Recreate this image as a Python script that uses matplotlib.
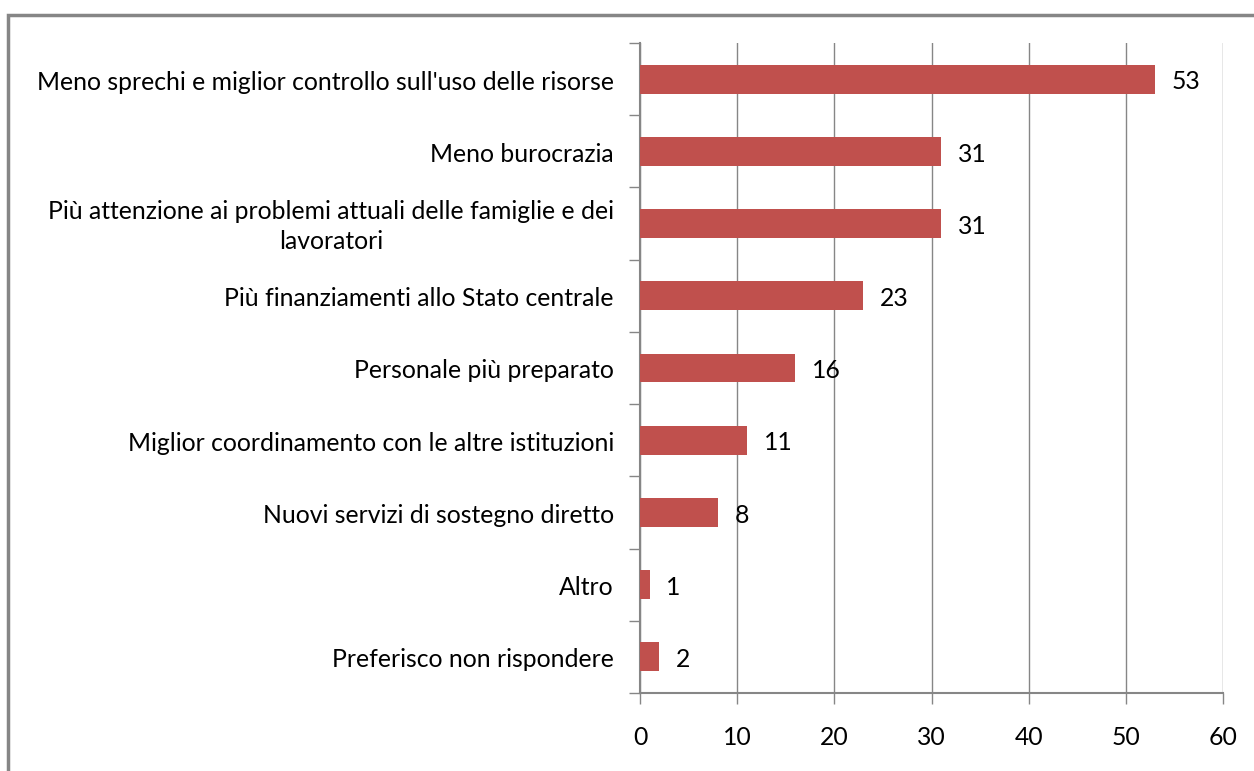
import matplotlib
matplotlib.use("Agg")
import matplotlib.pyplot as plt
from matplotlib.patches import Rectangle
from matplotlib.transforms import ScaledTranslation
import numpy as np

categories = [
    "Meno sprechi e miglior controllo sull'uso delle risorse",
    "Meno burocrazia",
    "Più attenzione ai problemi attuali delle famiglie e dei\nlavoratori",
    "Più finanziamenti allo Stato centrale",
    "Personale più preparato",
    "Miglior coordinamento con le altre istituzioni",
    "Nuovi servizi di sostegno diretto",
    "Altro",
    "Preferisco non rispondere",
]
values = [53, 31, 31, 23, 16, 11, 8, 1, 2]
xticks = [0, 10, 20, 30, 40, 50, 60]

plt.rcParams['font.family'] = ['Lato', 'DejaVu Sans']

fig = plt.figure(figsize=(12.54, 7.71), dpi=100)
W, H = 1254, 771
ax = fig.add_axes([640 / W, 1 - 693 / H, (1223 - 640) / W, (693 - 43) / H])

gray = '#868686'
fs = 17.8
n = len(categories)
y = np.arange(n)
ax.barh(y, values, height=0.4, color='#C0504D', zorder=3)
for yi, v in zip(y, values):
    ax.annotate(str(v), (v, yi), xytext=(12, -2), textcoords='offset points',
                va='center', ha='left', fontsize=fs)

ax.set_ylim(n - 0.5, -0.5)
ax.set_xlim(0, 60)
ax.set_xticks(xticks)
ax.set_xticklabels([str(t) for t in xticks], fontsize=fs)
ax.set_yticks(y)
ax.set_yticklabels([])
label_trans = ax.get_yaxis_transform() + ScaledTranslation(-26 / 100, -3 / 100, fig.dpi_scale_trans)
for yi, cat in zip(y, categories):
    ax.text(0, yi, cat, transform=label_trans, ha='right', va='center',
            multialignment='center', linespacing=1.35, fontsize=fs)
ax.set_yticks(np.arange(n + 1) - 0.5, minor=True)
ax.tick_params(axis='y', which='major', length=0)
ax.tick_params(axis='y', which='minor', length=8, color=gray, width=1)
ax.tick_params(axis='x', length=8, color=gray, width=1, pad=16)
ax.grid(axis='x', color=gray, linewidth=1, zorder=0)
for s in ['top', 'right']:
    ax.spines[s].set_visible(False)
for s in ['left', 'bottom']:
    ax.spines[s].set_color(gray)
    ax.spines[s].set_linewidth(1.5)

fig.add_artist(Rectangle((8 / W, -0.1), 1.2, 1 - 15 / H + 0.1, transform=fig.transFigure,
                         fill=False, edgecolor=gray, linewidth=2.5))

fig.savefig('out.png', dpi=100)
